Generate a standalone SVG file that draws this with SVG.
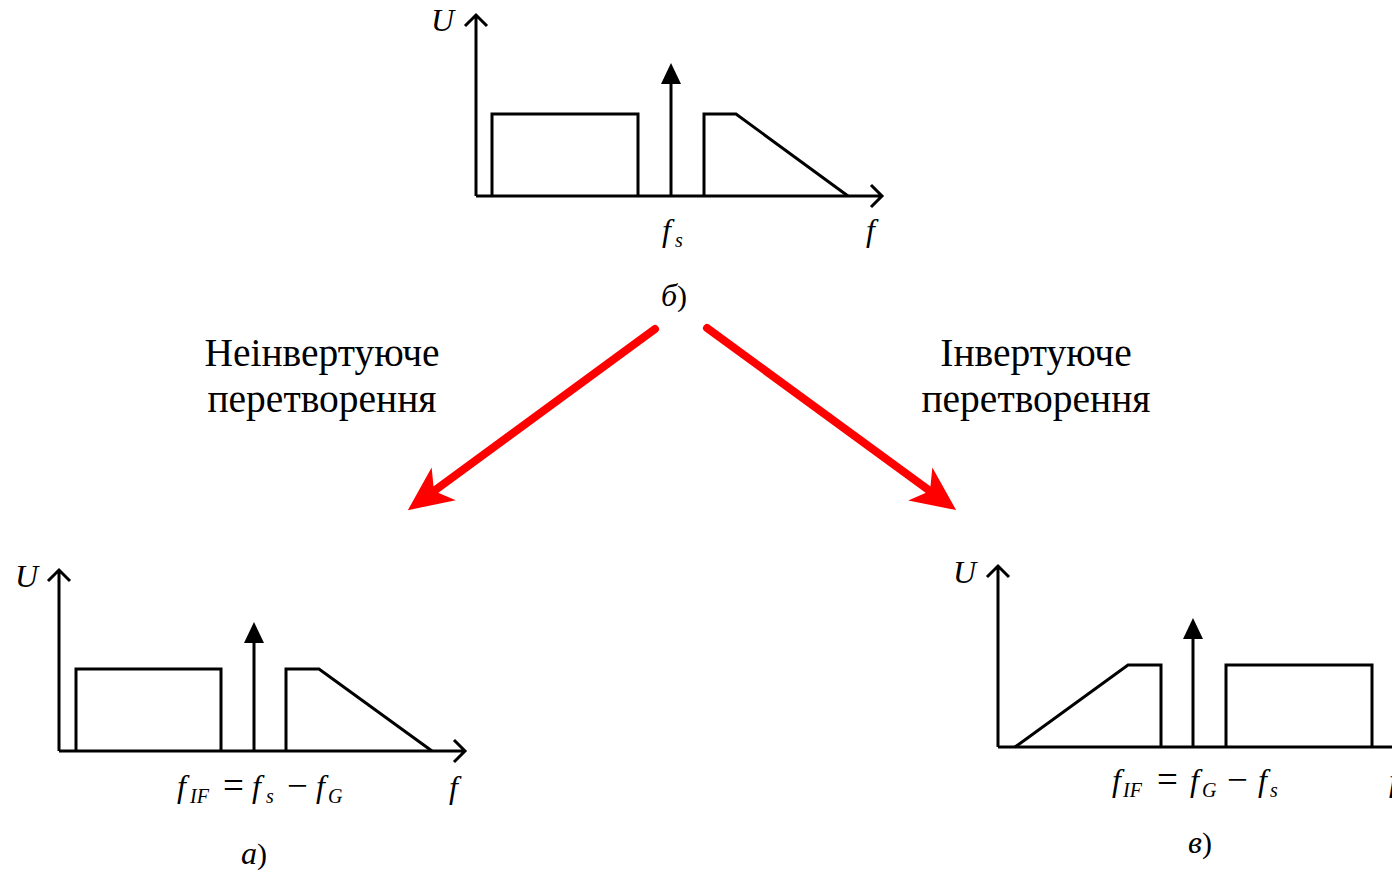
<svg xmlns="http://www.w3.org/2000/svg" width="1392" height="870" viewBox="0 0 1392 870">
<style>
.ln{fill:none;stroke:#000;stroke-width:3;stroke-linejoin:miter}
.tri{fill:#000}
.m{font-family:"Liberation Serif","Times New Roman",serif;font-style:italic;font-size:32px;fill:#000}
.sub{font-size:20px}
.up{font-style:normal;font-size:30px}
.op{font-style:normal;font-size:37px}
.lbl{font-family:"Liberation Serif","Times New Roman",serif;font-size:39.5px;fill:#000;text-anchor:middle}
.red{fill:none;stroke:#ff0000;stroke-width:8;stroke-linecap:round}
</style>
<defs>
<marker id="rh" markerUnits="userSpaceOnUse" markerWidth="60" markerHeight="60" refX="0" refY="0" viewBox="-15 -25 50 50" orient="auto" overflow="visible">
<path d="M27,0 L-10,-17 L0,0 L-10,17 Z" fill="#ff0000"/>
</marker>
</defs>
<rect width="1392" height="870" fill="#fff"/>

<g id="graph-b">
<path class="ln" d="M476,196 V15 M465,26 L476,15 L487,26"/>
<path class="ln" d="M476,196 H882 M871,185 L882,196 L871,207"/>
<path class="ln" d="M492,196 V114 H638 V196"/>
<path class="ln" d="M671,196 V82"/>
<path class="tri" d="M671,63 L661,84 L681,84 Z"/>
<path class="ln" d="M704,196 V114 H736 L848,196"/>
<text class="m" x="431" y="31">U</text>
<text class="m" x="662" y="241">f<tspan class="sub" x="675" y="247">s</tspan></text>
<text class="m" x="866" y="241">f</text>
<text class="m" x="674" y="306" text-anchor="middle">б<tspan class="up">)</tspan></text>
</g>

<g id="graph-a">
<path class="ln" d="M59,751 V570 M48,581 L59,570 L70,581"/>
<path class="ln" d="M59,751 H465 M454,740 L465,751 L454,762"/>
<path class="ln" d="M76,751 V669 H221 V751"/>
<path class="ln" d="M254,751 V641"/>
<path class="tri" d="M254,622 L244,643 L264,643 Z"/>
<path class="ln" d="M286,751 V669 H319 L432,751"/>
<text class="m" x="15" y="587">U</text>
<text class="m" x="177" y="797">f<tspan class="sub" x="190" y="803">IF</tspan><tspan class="op" x="223" y="798">=</tspan><tspan x="252" y="797">f</tspan><tspan class="sub" x="266" y="803">s</tspan><tspan class="op" x="287" y="798">−</tspan><tspan x="316" y="797">f</tspan><tspan class="sub" x="328" y="803">G</tspan></text>
<text class="m" x="449" y="798">f</text>
<text class="m" x="254" y="864" text-anchor="middle">а<tspan class="up">)</tspan></text>
</g>

<g id="graph-c">
<path class="ln" d="M998,747 V566 M987,577 L998,566 L1009,577"/>
<path class="ln" d="M998,747 H1395"/>
<path class="ln" d="M1015,747 L1128,665 H1161 V747"/>
<path class="ln" d="M1193,747 V637"/>
<path class="tri" d="M1193,618 L1183,639 L1203,639 Z"/>
<path class="ln" d="M1226,747 V665 H1372 V747"/>
<text class="m" x="953" y="583">U</text>
<text class="m" x="1112" y="791">f<tspan class="sub" x="1123" y="797">IF</tspan><tspan class="op" x="1157" y="792">=</tspan><tspan x="1190" y="791">f</tspan><tspan class="sub" x="1202" y="797">G</tspan><tspan class="op" x="1227" y="792">−</tspan><tspan x="1258" y="791">f</tspan><tspan class="sub" x="1270" y="797">s</tspan></text>
<text class="m" x="1389" y="791">f</text>
<text class="m" x="1200" y="853" text-anchor="middle">в<tspan class="up">)</tspan></text>
</g>

<g id="label-left">
<text class="lbl" x="322" y="366">Неінвертуюче</text>
<text class="lbl" x="322" y="412">перетворення</text>
</g>
<g id="label-right">
<text class="lbl" x="1036" y="366">Інвертуюче</text>
<text class="lbl" x="1036" y="412">перетворення</text>
</g>

<g id="connectors">
<line class="red" x1="655" y1="329" x2="434" y2="491" marker-end="url(#rh)"/>
<line class="red" x1="707" y1="328" x2="930" y2="491" marker-end="url(#rh)"/>
</g>
</svg>
